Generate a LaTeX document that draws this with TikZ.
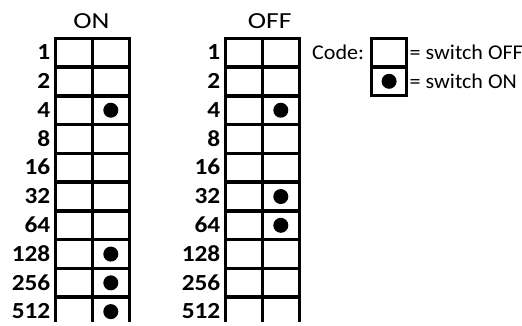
\documentclass[tikz,border=0pt]{standalone}
\usepackage{fontspec}
\setmainfont{Carlito}
\newfontfamily\numfont{Carlito}[FakeStretch=1.1]
\newfontfamily\titlefont{Carlito}[FakeStretch=1.2]
\newfontfamily\codefont{Carlito}[FakeStretch=1.05]
\begin{document}
\begin{tikzpicture}[x=1pt,y=-1pt,
  gridline/.style={line width=3.5pt, line join=miter},
  swdot/.style={circle, fill=black, draw=none, minimum size=15pt, inner sep=0pt},
  num/.style={anchor=base east, inner sep=0pt, font=\numfont\fontsize{23}{23}\selectfont\bfseries},
  title/.style={anchor=base, inner sep=0pt, font=\titlefont\fontsize{23}{23}\selectfont},
  codetext/.style={anchor=base west, inner sep=0pt, font=\codefont\fontsize{21}{21}\selectfont}]
\useasboundingbox (0,0) rectangle (522,325);
\def\gtop{38.3}
\def\rh{28.77}
\def\gbot{322}
% ---- ON grid ----
\def\xl{55.3}\def\xm{92.3}\def\xr{129.3}
\node[title] (ontitle) at (91.3,28.5) {ON};
\draw[gridline] (\xl,\gbot) -- (\xl,\gtop) -- (\xr,\gtop) -- (\xr,\gbot);
\draw[gridline] (\xm,\gtop) -- (\xm,\gbot);
\foreach \k in {1,...,9} {\draw[gridline] (\xl,{\gtop+\k*\rh}) -- (\xr,{\gtop+\k*\rh});}
\foreach \lab [count=\i from 0] in {1,2,4,8,16,32,64,128,256,512}
  {\node[num] (on\i) at (50.5,{\gtop+(\i+0.5)*\rh+7.2}) {\lab};}
\foreach \i in {2,7,8,9}
  {\node[swdot] (ondot\i) at (110.8,{\gtop+(\i+0.5)*\rh}) {};}
% ---- OFF grid ----
\def\xl{225.3}\def\xm{262.3}\def\xr{299.3}
\node[title] (offtitle) at (269.7,28.5) {OFF};
\draw[gridline] (\xl,\gbot) -- (\xl,\gtop) -- (\xr,\gtop) -- (\xr,\gbot);
\draw[gridline] (\xm,\gtop) -- (\xm,\gbot);
\foreach \k in {1,...,9} {\draw[gridline] (\xl,{\gtop+\k*\rh}) -- (\xr,{\gtop+\k*\rh});}
\foreach \lab [count=\i from 0] in {1,2,4,8,16,32,64,128,256,512}
  {\node[num] (off\i) at (220.5,{\gtop+(\i+0.5)*\rh+7.2}) {\lab};}
\foreach \i in {2,5,6}
  {\node[swdot] (offdot\i) at (280.8,{\gtop+(\i+0.5)*\rh}) {};}
% ---- Code legend ----
\node[codetext] (code) at (312,59.3) {Code:};
\draw[gridline] (371.5,38.3) rectangle (406.7,95.6);
\draw[gridline] (371.5,67) -- (406.7,67);
\node[swdot] (codedot) at (389.1,81.3) {};
\node[codetext] (codeoff) at (409.5,59.3) {= switch OFF};
\node[codetext] (codeon) at (409.5,88.3) {= switch ON};
\end{tikzpicture}
\end{document}
